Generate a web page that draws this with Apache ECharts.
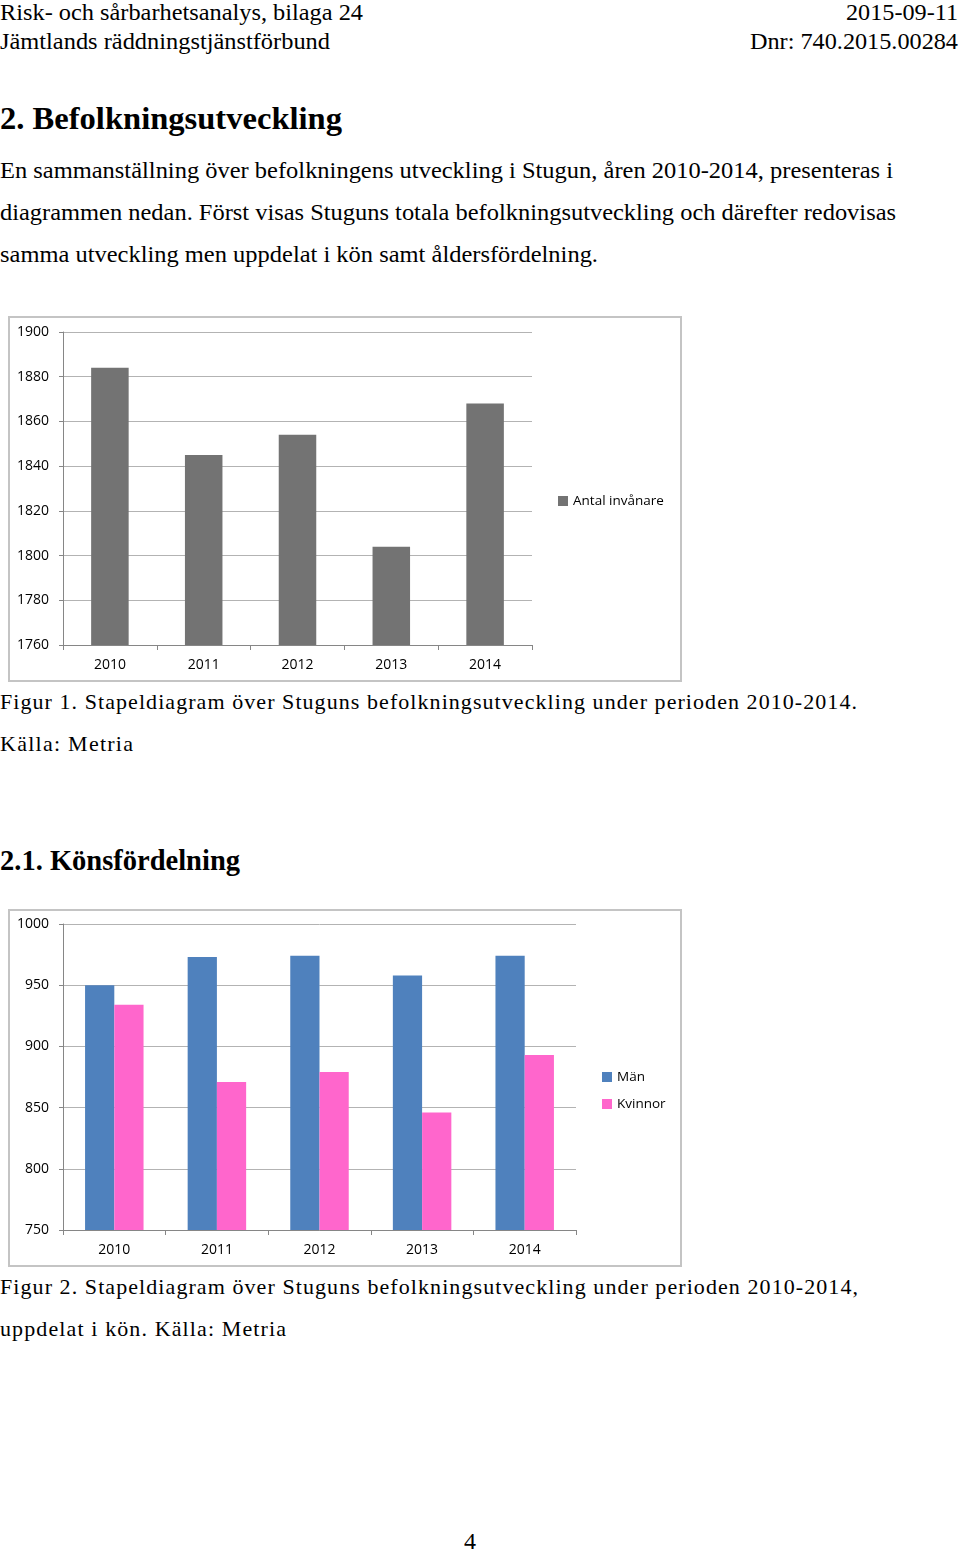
<!DOCTYPE html>
<html><head><meta charset="utf-8">
<script src="https://cdn.jsdelivr.net/npm/echarts@6/dist/echarts.min.js"></script>
<style>
html,body{margin:0;padding:0;background:#fff;}
body{width:960px;height:1552px;position:relative;overflow:hidden;font-family:'Liberation Serif',serif;color:#000;}
.t{position:absolute;white-space:nowrap;transform-origin:0 50%;font-family:'Liberation Serif',serif;}
.box{position:absolute;border:2px solid #c4c4c4;box-sizing:border-box;background:#fff;}
</style></head>
<body>
<div id="c1" class="box" style="left:8px;top:316px;width:674px;height:366px;"></div>
<div id="c2" class="box" style="left:8px;top:909px;width:674px;height:358px;"></div>
<script>
// ---- data ----
const years = ["2010","2011","2012","2013","2014"];
const totalName = "Antal invånare";
const totalValues = [1884, 1845, 1854, 1804, 1868];
const menName = "Män";
const menValues = [950, 973, 974, 958, 974];
const womenName = "Kvinnor";
const womenValues = [934, 871, 879, 846, 893];
const axis1 = {min:1760, max:1900, interval:20};
const axis2 = {min:750, max:1000, interval:50};

// ---- page text ----
const texts = [
 {s:"Risk- och sårbarhetsanalys, bilaga 24", x:0, w:363, y:12, fs:23},
 {s:"Jämtlands räddningstjänstförbund", x:0, w:330, y:41, fs:23},
 {s:"2015-09-11", x:846, w:112, y:12, fs:23},
 {s:"Dnr: 740.2015.00284", x:750, w:208, y:41, fs:23},
 {s:"2. Befolkningsutveckling", x:0, w:342, y:118, fs:32, b:1},
 {s:"En sammanställning över befolkningens utveckling i Stugun, åren 2010-2014, presenteras i", x:0, w:893, y:170, fs:23},
 {s:"diagrammen nedan. Först visas Stuguns totala befolkningsutveckling och därefter redovisas", x:0, w:896, y:212, fs:23},
 {s:"samma utveckling men uppdelat i kön samt åldersfördelning.", x:0, w:598, y:254, fs:23},
 {s:"Figur 1. Stapeldiagram över Stuguns befolkningsutveckling under perioden 2010-2014.", x:0, w:857, y:702, fs:22, ls:1},
 {s:"Källa: Metria", x:0, w:133, y:744, fs:22, ls:1},
 {s:"2.1. Könsfördelning", x:0, w:240, y:860, fs:30, b:1},
 {s:"Figur 2. Stapeldiagram över Stuguns befolkningsutveckling under perioden 2010-2014,", x:0, w:858, y:1287, fs:22, ls:1},
 {s:"uppdelat i kön. Källa: Metria", x:0, w:286, y:1329, fs:22, ls:1},
 {s:"4", x:464, w:12, y:1541, fs:23}
];
texts.forEach(t=>{
  const d=document.createElement('div');
  d.className='t';
  d.textContent=t.s;
  d.style.fontSize=t.fs+'px';
  d.style.lineHeight=t.fs+'px';
  d.style.fontWeight=t.b?'bold':'normal';
  d.style.left=t.x+'px';
  d.style.top=(t.y-t.fs/2)+'px';
  document.body.appendChild(d);
  const nat=d.getBoundingClientRect().width;
  const n=[...t.s].length;
  if(t.ls && n>1){ d.style.letterSpacing=((t.w-nat)/(n-1))+'px'; }
  else if(nat>0){ d.style.transform='scaleX('+(t.w/nat)+')'; }
});

const lab = {fontFamily:'"Open Sans", sans-serif', fontSize:14, color:'#000'};
function mkY(a){
  return {type:'value', min:a.min, max:a.max, interval:a.interval,
    axisLine:{show:true, lineStyle:{color:'#868686', width:1}},
    axisTick:{show:true, length:4, lineStyle:{color:'#868686'}},
    splitLine:{show:true, lineStyle:{color:'#b3b3b3', width:1}},
    axisLabel:Object.assign({margin:14, formatter:v=>String(v)}, lab)};
}
function mkX(){
  return {type:'category', data:years,
    axisLine:{show:true, lineStyle:{color:'#868686', width:1}},
    axisTick:{show:true, length:5, lineStyle:{color:'#868686'}},
    axisLabel:Object.assign({margin:13}, lab)};
}

const ch1 = echarts.init(document.getElementById('c1'));
ch1.setOption({
  animation:false,
  grid:{left:53, top:14, width:469, height:313},
  xAxis:mkX(), yAxis:mkY(axis1),
  legend:{orient:'vertical', left:543, top:171, itemWidth:10, itemHeight:10, icon:'rect', itemGap:13,
    itemStyle:{borderWidth:0}, textStyle:Object.assign({}, lab, {fontSize:13.5}), data:[totalName]},
  series:[{type:'bar', name:totalName, data:totalValues, barCategoryGap:'60%', itemStyle:{color:'#737373'}}]
});

const ch2 = echarts.init(document.getElementById('c2'));
ch2.setOption({
  animation:false,
  grid:{left:53, top:13, width:513, height:306},
  xAxis:mkX(), yAxis:mkY(axis2),
  legend:{orient:'vertical', left:587, top:154, itemWidth:10, itemHeight:10, icon:'rect', itemGap:13,
    itemStyle:{borderWidth:0}, textStyle:Object.assign({}, lab, {fontSize:13.5}), data:[menName, womenName]},
  series:[
    {type:'bar', name:menName, data:menValues, barGap:'0%', barCategoryGap:'43%', itemStyle:{color:'#4f81bd'}},
    {type:'bar', name:womenName, data:womenValues, barGap:'0%', barCategoryGap:'43%', itemStyle:{color:'#ff66cc'}}
  ]
});
</script>
</body></html>
